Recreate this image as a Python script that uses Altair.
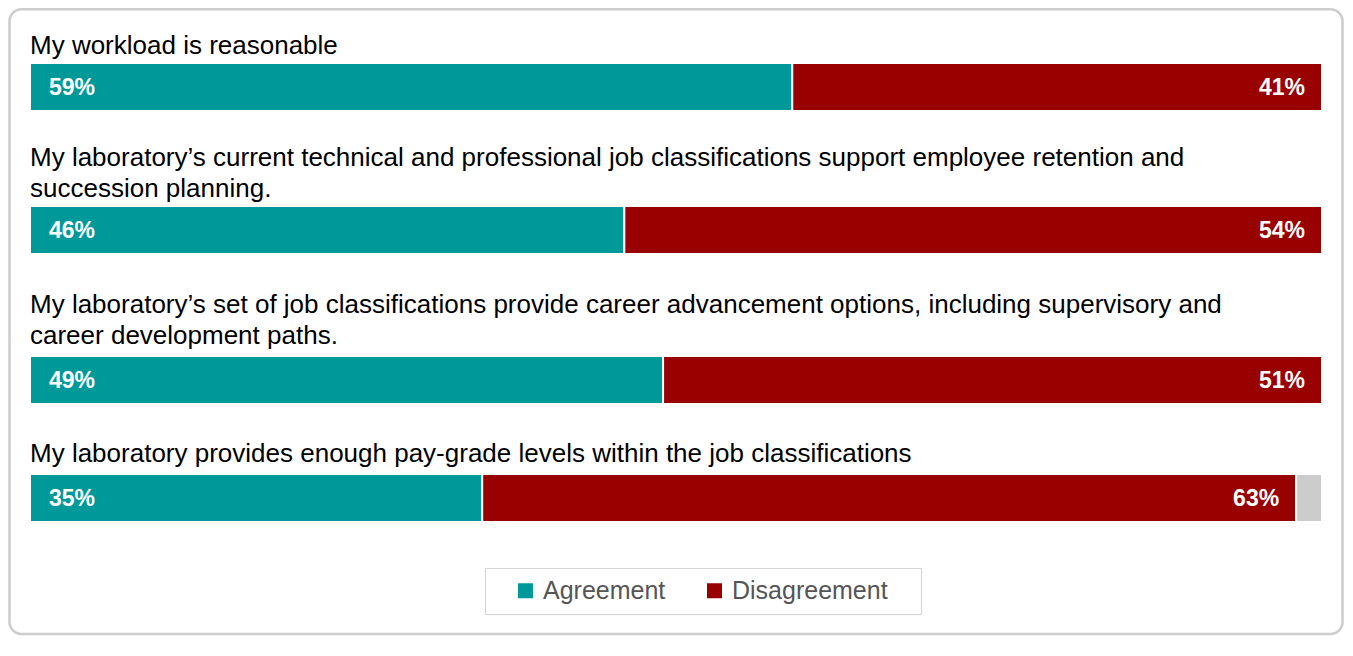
import altair as alt
import pandas as pd

questions = ["q1", "q2", "q3", "q4"]
title_lines = [
    ["My workload is reasonable"],
    ["My laboratory’s current technical and professional job classifications support employee retention and",
     "succession planning."],
    ["My laboratory’s set of job classifications provide career advancement options, including supervisory and",
     "career development paths."],
    ["My laboratory provides enough pay-grade levels within the job classifications"],
]
agreement = [59, 46, 49, 35]
disagreement = [41, 54, 51, 63]
other = [0, 0, 0, 2]
categories = ["Agreement", "Disagreement", "Other"]
colors = ["#009999", "#990000", "#cccccc"]

rows = []
for i, q in enumerate(questions):
    start = 0
    for cat, v in zip(categories, [agreement[i], disagreement[i], other[i]]):
        if v > 0:
            rows.append(dict(q=q, cat=cat, start=start, end=start + v, value=v))
        start += v
df = pd.DataFrame(rows)

FONT = "Liberation Sans"
BAR_H = 48
BAR_W = 1292
SPACING = 54
# panel heights: bar sits at the top of each panel, remaining space is gap below
panel_h = [89, 96, 64, 48]
title_offsets = [3, 3, 6, 6]
xscale = alt.Scale(domain=[0, 100], nice=False, zero=True)

color = alt.Color(
    "cat:N",
    scale=alt.Scale(domain=categories, range=colors),
    legend=alt.Legend(
        values=["Agreement", "Disagreement"], title=".", titleOrient="right",
        titleOpacity=0, titleFontSize=10, titlePadding=20,
        orient="none", direction="horizontal", legendX=455, legendY=560,
        labelFontSize=25, labelFont=FONT, labelColor="#555555",
        symbolType="square", symbolSize=225, symbolStrokeWidth=0,
        symbolOffset=18, labelOffset=5, columnPadding=18, padding=10,
        strokeColor="#d4d4d4",
    ),
)


def panel(i):
    h = panel_h[i]
    pad = (h / BAR_H - 1) / 2
    yenc = alt.Y("q:N", axis=None,
                 scale=alt.Scale(paddingInner=0, paddingOuter=pad, align=0))
    d = df[df.q == questions[i]]
    base = alt.Chart(d)
    bars = base.mark_bar(stroke="white", strokeWidth=2).encode(
        x=alt.X("start:Q", scale=xscale, axis=None),
        x2="end:Q",
        y=yenc,
        color=color,
    )
    lab_a = base.transform_filter(alt.datum.cat == "Agreement").transform_calculate(
        label="format(datum.value, 'd') + '%'"
    ).mark_text(align="left", baseline="middle", dx=19, dy=1, font=FONT,
                fontSize=23, fontWeight="bold", color="white").encode(
        x=alt.X("start:Q", scale=xscale, axis=None), y=yenc, text="label:N")
    lab_d = base.transform_filter(alt.datum.cat == "Disagreement").transform_calculate(
        label="format(datum.value, 'd') + '%'"
    ).mark_text(align="right", baseline="middle", dx=-17, dy=1, font=FONT,
                fontSize=23, fontWeight="bold", color="white").encode(
        x=alt.X("end:Q", scale=xscale, axis=None), y=yenc, text="label:N")
    return alt.layer(bars, lab_a, lab_d).properties(
        width=BAR_W, height=h,
        title=alt.TitleParams(text=title_lines[i], anchor="start", frame="group",
                              fontSize=26, font=FONT, color="black", fontWeight="normal",
                              lineHeight=31, offset=title_offsets[i]),
    )


# outer rounded border of the card (decoration only)
frame = alt.Chart(pd.DataFrame({"f": [0]})).mark_rect(
    fill="transparent", stroke="#cccccc", strokeWidth=2.5, cornerRadius=12
).encode(x=alt.value(-20.5), x2=alt.value(1312.5), y=alt.value(1.25), y2=alt.value(626)
).properties(width=BAR_W, height=1)

chart = alt.vconcat(frame, panel(0), panel(1), panel(2), panel(3),
                    spacing=SPACING, bounds="flush").properties(
    padding=0
).configure_view(stroke=None)

chart.save("out.html", embed_options={"renderer": "svg", "actions": False})
